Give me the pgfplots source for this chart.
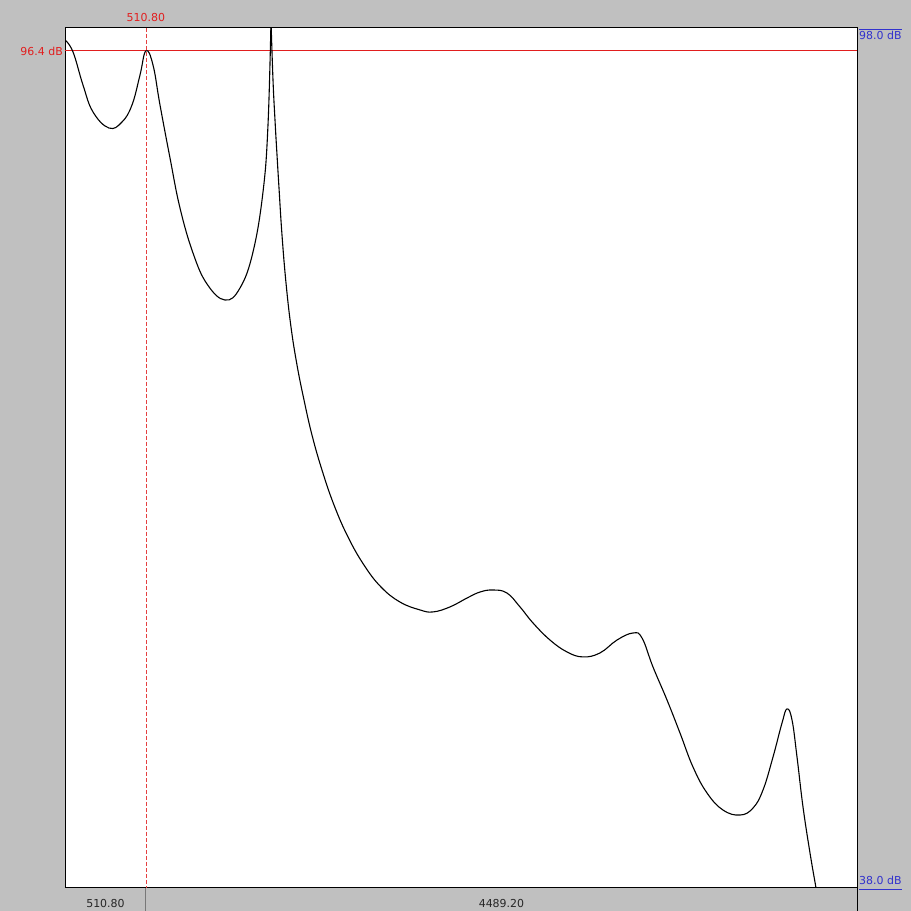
\documentclass[border=0pt]{standalone}
\usepackage{pgfplots}
\pgfplotsset{compat=1.18}
\usetikzlibrary{calc}
\usepackage{fontspec}
\setmainfont{DejaVu Sans}
\definecolor{bggray}{RGB}{192,192,192}
\definecolor{curred}{RGB}{225,30,30}
\definecolor{lblblue}{RGB}{50,50,205}
\definecolor{divgray}{RGB}{120,120,120}
\begin{document}
\begin{tikzpicture}[x=1bp,y=1bp]
\fill[bggray] (0,0) rectangle (911,911);
\useasboundingbox (0,0) rectangle (911,911);
\begin{axis}[
  at={(65bp,23bp)}, anchor=south west,
  scale only axis, width=792bp, height=860bp,
  xmin=0, xmax=5000, ymin=38, ymax=98,
  xtick=\empty, ytick=\empty,
  axis line style={black, line width=1bp},
  axis background/.style={fill=white},
  clip mode=individual,
]
\addplot[curred, line width=1bp] coordinates {(0,96.4) (5000,96.4)};
\addplot[black, line width=1.1bp, smooth, tension=0.7] coordinates {
(0,97.16) (50.5,96.33) (113.6,94.02) (176.8,92.14) (277.8,91.02) (359.8,91.44)
(423,92.63) (473.5,94.72) (510.8,96.4) (555.5,95.42) (599.7,92.63) (662.9,88.93)
(726,85.44) (808.1,82.30) (896.5,80.14) (1010,79.02) (1104.8,79.86) (1186.8,82.37)
(1250,86.56) (1281.5,91.23) (1300.5,98.5)
};
\addplot[black, line width=1.1bp, smooth, tension=0.7] coordinates {
(1300.5,98.5) (1313.1,94.37) (1325.7,91.58) (1338.4,89.14) (1351.0,86.84) (1369.9,83.56)
(1395.2,80.21) (1426.7,77.14) (1464.6,74.49) (1508.8,72.05) (1559.3,69.60) (1622.4,67.16)
(1698.2,64.72) (1786.6,62.49) (1887.6,60.53) (1994.9,59.00) (2114.9,57.95) (2241.1,57.40)
(2323.2,57.26) (2430.6,57.61) (2537.9,58.23) (2620,58.65) (2702,58.79)
(2790,58.58) (2872.4,57.61) (2954.5,56.49) (3061.8,55.30) (3169,54.47) (3270,54.12)
(3377.5,54.40) (3484.8,55.30) (3585.9,55.79) (3642.7,55.44) (3712,53.42) (3800.4,51.12)
(3882.6,48.81) (3964.6,46.44) (4053,44.63) (4154,43.44) (4261.4,43.09) (4343.4,43.58)
(4406.6,44.84) (4469.7,47.14) (4526.5,49.51) (4558.1,50.49) (4589.7,49.72) (4621.2,47.14)
(4659.1,43.65) (4703.3,40.44) (4741.2,38.0) (4760,36.8)
};
\coordinate (cur) at (axis cs:510.8,98);
\coordinate (curb) at (axis cs:510.8,38);
\coordinate (lev) at (axis cs:0,96.4);
\coordinate (tr) at (rel axis cs:1,1);
\coordinate (br) at (rel axis cs:1,0);
\coordinate (bl) at (rel axis cs:0,0);
\end{axis}
\draw[curred!85, line width=0.8bp, dash pattern=on 4bp off 2bp] (cur) -- (curb);
\begin{scope}[font=\fontsize{11}{13}\selectfont]
\draw[divgray, line width=1bp] (curb) -- ++(0,-23);
\draw[black, line width=1bp] (br) -- ++(0,-23);
\node[curred, anchor=base, inner sep=0pt] at ([yshift=6bp]cur) {510.80};
\node[curred, anchor=east, inner sep=0pt] at ([xshift=-2bp]lev) {96.4 dB};
\node[lblblue, anchor=north west, inner sep=0pt] (t98) at ([xshift=2bp,yshift=-2.5bp]tr) {98.0 dB};
\draw[lblblue, line width=0.8bp] ([yshift=1.5bp]t98.north west) -- ([yshift=1.5bp]t98.north east);
\node[lblblue, anchor=base west, inner sep=0pt] (t38) at ([xshift=2bp,yshift=3bp]br) {38.0 dB};
\draw[lblblue, line width=0.8bp] ([xshift=2bp,yshift=-1bp]br) -- ([yshift=-1bp]br -| t38.east);
\node[black!85, anchor=base] at ([yshift=-20bp]$(bl)!0.5!(curb)$) {510.80};
\node[black!85, anchor=base] at ([yshift=-20bp]$(curb)!0.5!(br)$) {4489.20};
\end{scope}
\end{tikzpicture}
\end{document}
